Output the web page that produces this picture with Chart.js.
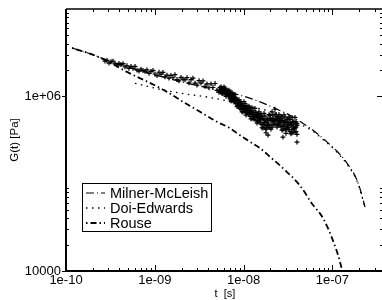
<!DOCTYPE html>
<html>
<head>
<meta charset="utf-8">
<script src="https://cdn.jsdelivr.net/npm/chart.js@4.4.1/dist/chart.umd.min.js"></script>
<style>
  html, body { margin: 0; padding: 0; background: #fff; }
  #wrap { width: 382px; height: 300px; }
</style>
</head>
<body>
<div id="wrap"><canvas id="chart" width="382" height="300"></canvas></div>
<script>
// Axis ticks and their labels
const xTicks = [1e-10, 1e-9, 1e-8, 1e-7];
const xTickLabels = ["1e-10", "1e-09", "1e-08", "1e-07"];
const yTicks = [1e4, 1e6];
const yTickLabels = ["10000", "1e+06"];

// Model curves, t in s, G(t) in Pa
const mmT = [1.17e-10, 1.96e-10, 3.38e-10, 8.83e-10, 1.92e-9, 4.18e-9, 9.11e-9, 1.53e-8, 2.38e-8, 3.33e-8, 4.55e-8, 6.05e-8, 8.25e-8, 1.127e-7, 1.46e-7, 1.892e-7, 2.10e-7, 2.33e-7];
const mmG = [3.58e6, 3.02e6, 2.45e6, 1.83e6, 1.48e6, 1.23e6, 1.03e6, 8.65e5, 7.10e5, 6.06e5, 4.98e5, 4.09e5, 3.14e5, 2.35e5, 1.72e5, 1.10e5, 8.0e4, 5.39e4];

const deT = [5.98e-10, 7.36e-10, 1.059e-9, 2.078e-9, 3.49e-9, 5.71e-9, 9.11e-9, 1.452e-8, 1.98e-8, 2.93e-8, 4.32e-8, 6.05e-8, 8.25e-8, 1.127e-7, 1.46e-7, 1.892e-7, 2.10e-7, 2.33e-7];
const deG = [1.41e6, 1.34e6, 1.224e6, 1.074e6, 1.0e6, 9.12e5, 8.10e5, 7.29e5, 6.74e5, 5.83e5, 4.79e5, 3.98e5, 3.06e5, 2.29e5, 1.67e5, 1.07e5, 7.79e4, 5.25e4];

const rouseT = [1.17e-10, 1.96e-10, 3.13e-10, 4.86e-10, 8.38e-10, 1.372e-9, 2.078e-9, 3.23e-9, 5.02e-9, 7.03e-9, 9.11e-9, 1.18e-8, 1.53e-8, 1.98e-8, 2.78e-8, 4.32e-8, 5.9e-8, 7.84e-8, 9.90e-8, 1.218e-7, 1.283e-7, 1.316e-7];
const rouseG = [3.58e6, 3.02e6, 2.45e6, 1.905e6, 1.46e6, 1.125e6, 8.65e5, 6.65e5, 5.11e5, 4.31e5, 3.58e5, 3.02e5, 2.55e5, 2.03e5, 1.50e5, 9.49e4, 5.9e4, 4.03e4, 2.38e4, 1.27e4, 1.0e4, 7.9e3];

// Simulation data (log10 of t and G), early times
const simEarlyLogT = [-9.561, -9.538, -9.516, -9.493, -9.471, -9.448, -9.426, -9.403, -9.381, -9.358, -9.336, -9.313, -9.291, -9.268, -9.246, -9.223, -9.200, -9.178, -9.155, -9.133, -9.110, -9.088, -9.065, -9.043, -9.020, -8.998, -8.975, -8.953, -8.930, -8.908, -8.885, -8.863, -8.840, -8.818, -8.795, -8.773, -8.750, -8.728, -8.705, -8.682, -8.660, -8.637, -8.615, -8.592, -8.570, -8.547, -8.525, -8.502, -8.480, -8.457, -8.435, -8.412, -8.390, -8.367, -8.345, -8.322, -8.300, -8.277];
const simEarlyLogG = [6.403, 6.412, 6.381, 6.396, 6.403, 6.371, 6.357, 6.378, 6.363, 6.374, 6.337, 6.350, 6.321, 6.343, 6.319, 6.343, 6.301, 6.288, 6.312, 6.295, 6.287, 6.302, 6.262, 6.285, 6.298, 6.256, 6.238, 6.276, 6.254, 6.274, 6.223, 6.243, 6.208, 6.241, 6.213, 6.249, 6.193, 6.177, 6.217, 6.196, 6.188, 6.214, 6.155, 6.191, 6.209, 6.152, 6.129, 6.179, 6.152, 6.178, 6.115, 6.143, 6.098, 6.143, 6.101, 6.147, 6.069, 6.045];

// late times, three runs on the same time grid
const simLateLogT = [-8.266, -8.254, -8.243, -8.232, -8.221, -8.209, -8.198, -8.187, -8.176, -8.164, -8.153, -8.142, -8.131, -8.119, -8.108, -8.097, -8.086, -8.074, -8.063, -8.052, -8.041, -8.029, -8.018, -8.007, -7.996, -7.984, -7.973, -7.962, -7.951, -7.939, -7.928, -7.917, -7.906, -7.894, -7.883, -7.872, -7.861, -7.849, -7.838, -7.827, -7.815, -7.804, -7.793, -7.782, -7.770, -7.759, -7.748, -7.737, -7.725, -7.714, -7.703, -7.692, -7.680, -7.669, -7.658, -7.647, -7.635, -7.624, -7.613, -7.602, -7.590, -7.579, -7.568, -7.557, -7.545, -7.534, -7.523, -7.512, -7.500, -7.489, -7.478, -7.467, -7.455, -7.444, -7.433, -7.422, -7.410, -7.399];
const simRunALogG = [6.071, 6.108, 6.030, 6.080, 6.108, 6.035, 6.000, 6.069, 6.030, 6.070, 5.972, 6.014, 5.948, 6.013, 5.958, 6.023, 5.917, 5.883, 5.950, 5.904, 5.884, 5.939, 5.822, 5.897, 5.939, 5.829, 5.785, 5.886, 5.836, 5.888, 5.769, 5.825, 5.745, 5.835, 5.767, 5.863, 5.727, 5.693, 5.797, 5.747, 5.731, 5.803, 5.640, 5.744, 5.804, 5.640, 5.583, 5.742, 5.680, 5.790, 5.643, 5.742, 5.646, 5.787, 5.711, 5.852, 5.682, 5.647, 5.767, 5.712, 5.696, 5.773, 5.614, 5.723, 5.788, 5.629, 5.575, 5.737, 5.673, 5.764, 5.597, 5.687, 5.582, 5.713, 5.629, 5.760, 5.596, 5.565];
const simRunBLogG = [6.099, 6.048, 6.076, 6.030, 6.048, 6.094, 6.058, 6.019, 6.062, 5.993, 6.029, 5.948, 6.045, 5.979, 5.935, 5.955, 5.982, 5.945, 5.896, 5.961, 5.925, 5.849, 5.891, 5.822, 5.849, 5.918, 5.868, 5.817, 5.877, 5.792, 5.838, 5.743, 5.870, 5.789, 5.736, 5.767, 5.817, 5.778, 5.723, 5.823, 5.785, 5.681, 5.736, 5.636, 5.673, 5.774, 5.707, 5.639, 5.742, 5.646, 5.745, 5.624, 5.821, 5.725, 5.670, 5.728, 5.792, 5.745, 5.685, 5.792, 5.751, 5.651, 5.710, 5.615, 5.657, 5.763, 5.699, 5.635, 5.735, 5.620, 5.700, 5.569, 5.757, 5.652, 5.588, 5.637, 5.709, 5.668];
const simRunCLogG = [6.057, 6.085, 6.094, 6.051, 6.060, 6.073, 6.019, 6.032, 6.043, 6.004, 6.049, 6.003, 5.968, 5.993, 5.961, 5.989, 5.946, 5.957, 5.890, 5.914, 5.863, 5.904, 5.918, 5.853, 5.867, 5.887, 5.813, 5.835, 5.853, 5.806, 5.862, 5.811, 5.771, 5.808, 5.771, 5.815, 5.768, 5.795, 5.715, 5.760, 5.703, 5.756, 5.774, 5.680, 5.698, 5.728, 5.624, 5.665, 5.706, 5.667, 5.781, 5.721, 5.682, 5.751, 5.716, 5.790, 5.732, 5.765, 5.675, 5.726, 5.669, 5.726, 5.749, 5.660, 5.682, 5.716, 5.616, 5.660, 5.699, 5.640, 5.736, 5.667, 5.618, 5.677, 5.634, 5.699, 5.647, 5.688];
const simOutLogT = [-7.725, -7.557, -7.399];
const simOutLogG = [5.555, 5.532, 5.475];

const FONT = "'Liberation Sans', Arial, Helvetica, sans-serif";

const pairs = (xs, ys) => xs.map((v, i) => ({ x: v, y: ys[i] }));
const logPairs = (xs, ys) => xs.map((v, i) => ({ x: Math.pow(10, v), y: Math.pow(10, ys[i]) }));

const simPoints = [
    ...logPairs(simEarlyLogT, simEarlyLogG),
    ...logPairs(simLateLogT, simRunALogG),
    ...logPairs(simLateLogT, simRunBLogG),
    ...logPairs(simLateLogT, simRunCLogG),
    ...logPairs(simOutLogT, simOutLogG)
];

// frame + inward ticks, drawn from the scales
// (the frame runs on to the canvas edge, the right axis sits just outside it)
const framePlugin = {
    id: 'frame',
    afterDatasetsDraw(chart) {
        const { ctx, chartArea: a, scales } = chart;
        const xs = scales.x, ys = scales.y;
        const edge = chart.width;
        ctx.save();
        ctx.strokeStyle = '#000';
        ctx.lineWidth = 1;
        ctx.beginPath();
        for (const d of xTicks) {
            const px = Math.round(xs.getPixelForValue(d)) + 0.5;
            ctx.moveTo(px, a.bottom); ctx.lineTo(px, a.bottom - 6);
            ctx.moveTo(px, a.top); ctx.lineTo(px, a.top + 6);
            for (let m = 2; m <= 9; m++) {
                const mp = Math.round(xs.getPixelForValue(d * m)) + 0.5;
                if (mp > edge) break;
                ctx.moveTo(mp, a.bottom); ctx.lineTo(mp, a.bottom - 3);
                ctx.moveTo(mp, a.top); ctx.lineTo(mp, a.top + 3);
            }
        }
        for (const d of yTicks) {
            const py = Math.round(ys.getPixelForValue(d)) + 0.5;
            ctx.moveTo(a.left - 4, py); ctx.lineTo(a.left, py);
            ctx.moveTo(edge, py); ctx.lineTo(edge - 5, py);
            for (let m = 2; m <= 9; m++) {
                const mp = Math.round(ys.getPixelForValue(d * m)) + 0.5;
                ctx.moveTo(a.left, mp); ctx.lineTo(a.left + 3, mp);
                ctx.moveTo(edge, mp); ctx.lineTo(edge - 2, mp);
            }
        }
        ctx.stroke();

        ctx.lineWidth = 2;
        ctx.beginPath();
        ctx.moveTo(a.left, a.top);
        ctx.lineTo(a.left, a.bottom);
        ctx.lineTo(edge, a.bottom);
        ctx.stroke();
        ctx.lineWidth = 1.5;
        ctx.beginPath();
        ctx.moveTo(a.left, a.top);
        ctx.lineTo(edge, a.top);
        ctx.stroke();

        // axis titles
        ctx.fillStyle = '#000';
        ctx.textAlign = 'center';
        ctx.textBaseline = 'middle';
        ctx.font = '11px ' + FONT;
        ctx.fillText('t  [s]', 225, 294);
        ctx.translate(15, (a.top + a.bottom) / 2);
        ctx.rotate(-Math.PI / 2);
        ctx.font = '11.5px ' + FONT;
        ctx.fillText('G(t) [Pa]', 0, 0);
        ctx.restore();
    }
};

// boxed legend inside the plot
const legendPlugin = {
    id: 'boxLegend',
    afterDraw(chart) {
        const { ctx } = chart;
        const box = { left: 82.5, top: 183.5, width: 129, height: 48 };
        ctx.save();
        ctx.fillStyle = '#fff';
        ctx.fillRect(box.left, box.top, box.width, box.height);
        ctx.strokeStyle = '#000';
        ctx.lineWidth = 1;
        ctx.strokeRect(box.left, box.top, box.width, box.height);
        const items = chart.data.datasets.filter(ds => ds.showLine);
        items.forEach((ds, i) => {
            const yy = box.top + 9.5 + i * 15;
            ctx.strokeStyle = '#000';
            ctx.lineWidth = ds.borderWidth;
            ctx.setLineDash(ds.borderDash);
            ctx.beginPath();
            ctx.moveTo(86, yy);
            ctx.lineTo(105, yy);
            ctx.stroke();
            ctx.setLineDash([]);
            ctx.fillStyle = '#000';
            ctx.font = '14.5px ' + FONT;
            ctx.textAlign = 'left';
            ctx.textBaseline = 'middle';
            ctx.fillText(ds.label, 110, yy + 0.5);
        });
        ctx.restore();
    }
};

const lineStyle = {
    showLine: true,
    pointRadius: 0,
    borderColor: '#000',
    backgroundColor: '#000',
    fill: false,
    cubicInterpolationMode: 'monotone'
};

new Chart(document.getElementById('chart'), {
    type: 'scatter',
    data: {
        datasets: [
            { ...lineStyle, label: 'Milner-McLeish', data: pairs(mmT, mmG), borderWidth: 1.2, borderDash: [8, 3, 1, 3], order: 2 },
            { ...lineStyle, label: 'Doi-Edwards', data: pairs(deT, deG), borderWidth: 1.3, borderDash: [1.5, 4.5], order: 3 },
            { ...lineStyle, label: 'Rouse', data: pairs(rouseT, rouseG), borderWidth: 1.8, borderDash: [1.5, 3, 6, 3], order: 4 },
            {
                label: 'simulation', data: simPoints, showLine: false,
                pointStyle: 'cross', pointRadius: 2.4, pointBorderWidth: 1.2,
                borderColor: '#000', backgroundColor: '#000', order: 1
            }
        ]
    },
    options: {
        responsive: false,
        animation: false,
        events: [],
        layout: { padding: { top: 9, right: 0, left: 0, bottom: 0 } },
        plugins: { legend: { display: false }, tooltip: { enabled: false } },
        scales: {
            x: {
                type: 'logarithmic',
                min: 1e-10,
                max: 3.162e-7,
                grid: { display: false, drawTicks: false },
                border: { display: false },
                afterBuildTicks: s => { s.ticks = xTicks.map(v => ({ value: v })); },
                afterFit: s => { s.height = 29; },
                ticks: {
                    callback: (v, i) => xTickLabels[i],
                    autoSkip: false, maxRotation: 0, padding: 2,
                    color: '#000', font: { size: 13, family: FONT }
                }
            },
            y: {
                type: 'logarithmic',
                min: 1e4,
                max: 1e7,
                grid: { display: false, drawTicks: false },
                border: { display: false },
                afterBuildTicks: s => { s.ticks = yTicks.map(v => ({ value: v })); },
                afterFit: s => { s.width = 66; s.paddingTop = 0; s.paddingBottom = 0; },
                ticks: {
                    callback: (v, i) => yTickLabels[i],
                    autoSkip: false, padding: 5,
                    color: '#000', font: { size: 13, family: FONT }
                }
            }
        }
    },
    plugins: [framePlugin, legendPlugin]
});
</script>
</body>
</html>
